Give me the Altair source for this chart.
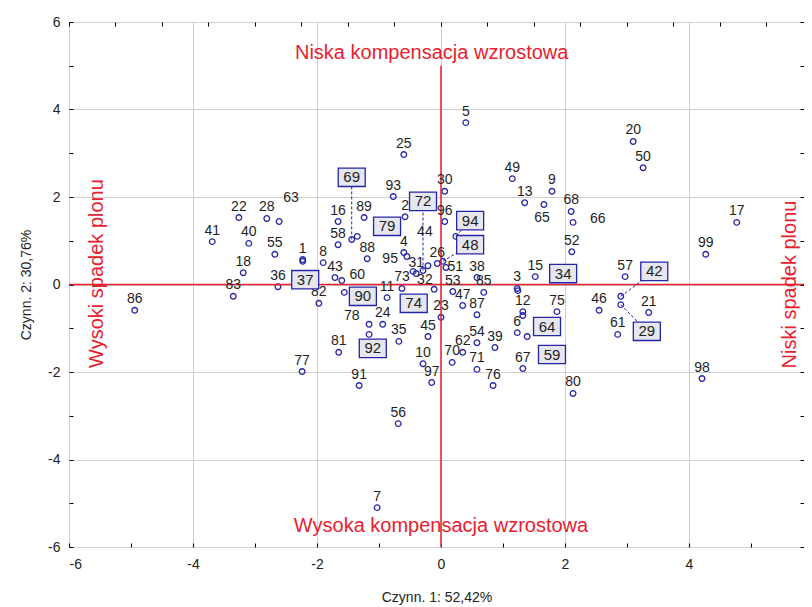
import altair as alt
import pandas as pd

# ---------------- data ----------------
point_ids = [1, 2, 3, 4, 5, 6, 7, 8, 9, 10, 11, 12, 13, 15, 16, 17, 18, 20, 21, 22,
             23, 24, 25, 26, 28, 29, 30, 31, 32, 34, 35, 36, 37, 38, 39, 40, 41, 42, 43, 44,
             45, 46, 47, 48, 49, 50, 51, 52, 53, 54, 55, 56, 57, 58, 59, 60, 61, 62, 63, 64,
             65, 66, 67, 68, 69, 70, 71, 72, 73, 74, 75, 76, 77, 78, 79, 80, 81, 82, 83, 85,
             86, 87, 88, 89, 90, 91, 92, 93, 94, 95, 96, 97, 98, 99]
point_x = [-2.23, -0.58, 1.23, -0.60, 0.40, 1.23, -1.03, -1.90, 1.79, -0.29, -0.87, 1.32, 1.35, 1.52, -1.66, 4.77, -3.19, 3.10, 3.35, -3.26,
           0.00, -0.94, -0.60, -0.06, -2.81, 2.90, 0.06, -0.40, -0.11, 1.24, -0.68, -2.63, -2.23, 0.58, 0.87, -3.10, -3.69, 2.90, -1.71, -0.21,
           -0.21, 2.55, 0.35, 0.03, 1.15, 3.26, 0.08, 2.11, 0.19, 0.58, -2.68, -0.69, 2.97, -1.66, 1.39, -1.60, 2.85, 0.35, -2.61, 1.32,
           1.66, 2.13, 1.32, 2.10, -1.44, 0.18, 0.58, -0.29, -0.63, -0.45, 1.87, 0.84, -2.24, -1.16, -1.35, 2.13, -1.65, -1.97, -3.35, 0.69,
           -4.94, 0.58, -1.19, -1.24, -1.56, -1.32, -1.16, -0.77, 0.24, -0.55, 0.06, -0.15, 4.21, 4.27]
point_y = [0.57, 1.55, -0.09, 0.73, 3.70, -1.10, -5.10, 0.50, 2.13, -1.81, -0.30, -0.62, 1.87, 0.18, 1.44, 1.42, 0.27, 3.27, -0.64, 1.53,
           -0.75, -0.91, 2.97, 0.48, 1.51, -0.46, 2.13, 0.25, -0.11, -0.14, -1.30, -0.05, 0.53, 0.16, -1.44, 0.94, 0.98, -0.27, 0.16, 0.43,
           -1.19, -0.59, -0.48, 0.53, 2.42, 2.67, 0.39, 0.75, -0.16, -1.33, 0.69, -3.18, 0.18, 0.91, -1.19, 0.09, -1.14, -1.55, 1.44, -0.71,
           1.83, 1.42, -1.92, 1.67, 1.03, -1.78, -1.94, 0.32, -0.09, 0.30, -0.62, -2.31, -1.99, -0.91, 1.10, -2.49, -1.55, -0.43, -0.27, -0.18,
           -0.59, -0.69, 0.59, 1.53, -0.18, -2.31, -1.14, 2.01, 1.10, 0.64, 1.44, -2.24, -2.15, 0.69]

# points whose number is shown in a box (box centre in data units)
box_ids = [29, 34, 37, 42, 48, 59, 64, 69, 72, 74, 79, 90, 92, 94]
box_x = [3.32, 1.97, -2.19, 3.44, 0.47, 1.79, 1.71, -1.44, -0.29, -0.44, -0.87, -1.26, -1.10, 0.47]
box_y = [-1.07, 0.25, 0.11, 0.30, 0.91, -1.60, -0.96, 2.45, 1.90, -0.43, 1.33, -0.27, -1.46, 1.46]
leader_ids = [29, 42, 48, 69, 72, 94]

# labels that sit away from the default "above the point" place
moved_ids = [63, 66, 65, 44, 95, 51, 60, 32, 78]
moved_x = [-2.42, 2.53, 1.63, -0.26, -0.82, 0.23, -1.35, -0.26, -1.44]
moved_y = [1.97, 1.49, 1.53, 1.21, 0.59, 0.41, 0.21, 0.11, -0.71]

# red reference lines and captions
ref_x = [-6, 0]
ref_x2 = [6, 0]
ref_y = [0, -6]
ref_y2 = [0, 5.0]
cap_text = ["Niska kompensacja wzrostowa", "Wysoka kompensacja wzrostowa",
            "Wysoki spadek plonu", "Niski spadek plonu"]
cap_x = [-0.15, 0.0, -5.55, 5.63]
cap_y = [5.29, -5.53, 0.25, 0.0]
cap_angle = [0, 0, 270, 270]

x_title = "Czynn. 1: 52,42%"
y_title = "Czynn. 2: 30,76%"
x_domain = [-6, 5.855]          # the right end of the frame lies at the page edge
y_domain = [-6, 6]
x_ticks = list(range(-6, 6))
y_ticks = list(range(-6, 7))
top_ticks = [-6 + 0.75 * k for k in range(16)]

# ---------------- tables ----------------
pts = pd.DataFrame({"id": point_ids, "x": point_x, "y": point_y})
pts["label"] = pts["id"].astype(str)
boxed = set(box_ids)
plain_lab = pts[~pts["id"].isin(boxed) & ~pts["id"].isin(moved_ids)]
moved_lab = pd.DataFrame({"label": [str(i) for i in moved_ids], "x": moved_x, "y": moved_y})

boxes = pd.DataFrame({"id": box_ids, "bx": box_x, "by": box_y})
boxes["label"] = boxes["id"].astype(str)
boxes = boxes.merge(pts[["id", "x", "y"]], on="id")
leaders = boxes[boxes["id"].isin(leader_ids)]

refs = pd.DataFrame({"x": ref_x, "x2": ref_x2, "y": ref_y, "y2": ref_y2})
caps = pd.DataFrame({"text": cap_text, "x": cap_x, "y": cap_y, "angle": cap_angle})

FONT = "Liberation Sans"
RED = "#e8202e"
BLUE = "#2424a8"
sc_x = alt.Scale(domain=x_domain, nice=False, zero=False)
sc_y = alt.Scale(domain=y_domain, nice=False, zero=False)
even = "datum.value % 2 == 0"

x_axis = alt.Axis(values=x_ticks, labelExpr=f"{even} ? '' + datum.value : ''",
                  grid=True, gridColor="#cfcfcf",
                  gridOpacity={"condition": {"test": even, "value": 1}, "value": 0},
                  domain=False, tickSize=4, offset=-4, tickColor="#000",
                  labelPadding=10, labelFont=FONT, labelFontSize=14, labelColor="#222",
                  title=x_title, titleFont=FONT, titleFontSize=14, titleFontWeight="normal",
                  titleColor="#222", titlePadding=19)
y_axis = alt.Axis(values=y_ticks, labelExpr=f"{even} ? '' + datum.value : ''",
                  grid=True, gridColor="#cfcfcf",
                  gridOpacity={"condition": {"test": even, "value": 1}, "value": 0},
                  domain=False, tickSize=4, offset=-4, tickColor="#000",
                  labelPadding=9, labelFont=FONT, labelFontSize=14, labelColor="#222",
                  title=y_title, titleFont=FONT, titleFontSize=14, titleFontWeight="normal",
                  titleColor="#222", titlePadding=14)
x_top = alt.Axis(orient="top", values=top_ticks, labels=False, grid=False, domain=False,
                 tickSize=4, offset=-4, tickColor="#000", title="")
y_right = alt.Axis(orient="right", values=y_ticks, labels=False, grid=False, domain=False,
                   tickSize=4, offset=-4, tickColor="#000", title="")

circles = alt.Chart(pts).mark_point(shape="circle", size=32, filled=False, stroke=BLUE,
                                    strokeWidth=1.3, opacity=1).encode(
    x=alt.X("x:Q", scale=sc_x, axis=x_axis),
    y=alt.Y("y:Q", scale=sc_y, axis=y_axis),
)

ref_lines = alt.Chart(refs).mark_rule(color=RED, strokeWidth=1.5, clip=True).encode(
    x=alt.X("x:Q", scale=sc_x, axis=x_top),
    y=alt.Y("y:Q", scale=sc_y, axis=y_right),
    x2="x2:Q", y2="y2:Q",
)

captions = alt.Chart(caps).mark_text(font=FONT, fontSize=20, color=RED, align="center",
                                     baseline="middle").encode(
    x=alt.X("x:Q", scale=sc_x, axis=None),
    y=alt.Y("y:Q", scale=sc_y, axis=None),
    text="text:N",
    angle=alt.Angle("angle:Q", scale=None),
)

leader_lines = alt.Chart(leaders).mark_rule(color=BLUE, strokeWidth=1, strokeDash=[3, 2]).encode(
    x=alt.X("x:Q", scale=sc_x, axis=None),
    y=alt.Y("y:Q", scale=sc_y, axis=None),
    x2="bx:Q", y2="by:Q",
)

labels = alt.Chart(plain_lab).mark_text(font=FONT, fontSize=14, color="#1e1e1e", dy=-11,
                                        baseline="middle").encode(
    x=alt.X("x:Q", scale=sc_x, axis=None),
    y=alt.Y("y:Q", scale=sc_y, axis=None),
    text="label:N",
)
labels_moved = alt.Chart(moved_lab).mark_text(font=FONT, fontSize=14, color="#1e1e1e",
                                              baseline="middle").encode(
    x=alt.X("x:Q", scale=sc_x, axis=None),
    y=alt.Y("y:Q", scale=sc_y, axis=None),
    text="label:N",
)

BOX_PATH = "M-1,-0.68L1,-0.68L1,0.68L-1,0.68Z"
box_marks = alt.Chart(boxes).mark_point(shape=BOX_PATH, size=729, filled=True, fill="#e6e6ee",
                                        fillOpacity=1, stroke=BLUE, strokeWidth=1.3,
                                        opacity=1).encode(
    x=alt.X("bx:Q", scale=sc_x, axis=None),
    y=alt.Y("by:Q", scale=sc_y, axis=None),
)
box_text = alt.Chart(boxes).mark_text(font=FONT, fontSize=15, color="#1e1e1e",
                                      baseline="middle").encode(
    x=alt.X("bx:Q", scale=sc_x, axis=None),
    y=alt.Y("by:Q", scale=sc_y, axis=None),
    text="label:N",
)

chart = alt.layer(
    circles, ref_lines, captions, leader_lines, labels, labels_moved, box_marks, box_text
).resolve_axis(x="independent", y="independent").properties(
    width=735, height=525,
    autosize=alt.AutoSizeParams(type="none"),
    padding={"left": 61, "top": 14, "right": 0, "bottom": 60},
).configure_view(stroke="#000", strokeWidth=1.5).configure(background="white")

chart.save("out.html", embed_options={"renderer": "svg", "actions": False})
